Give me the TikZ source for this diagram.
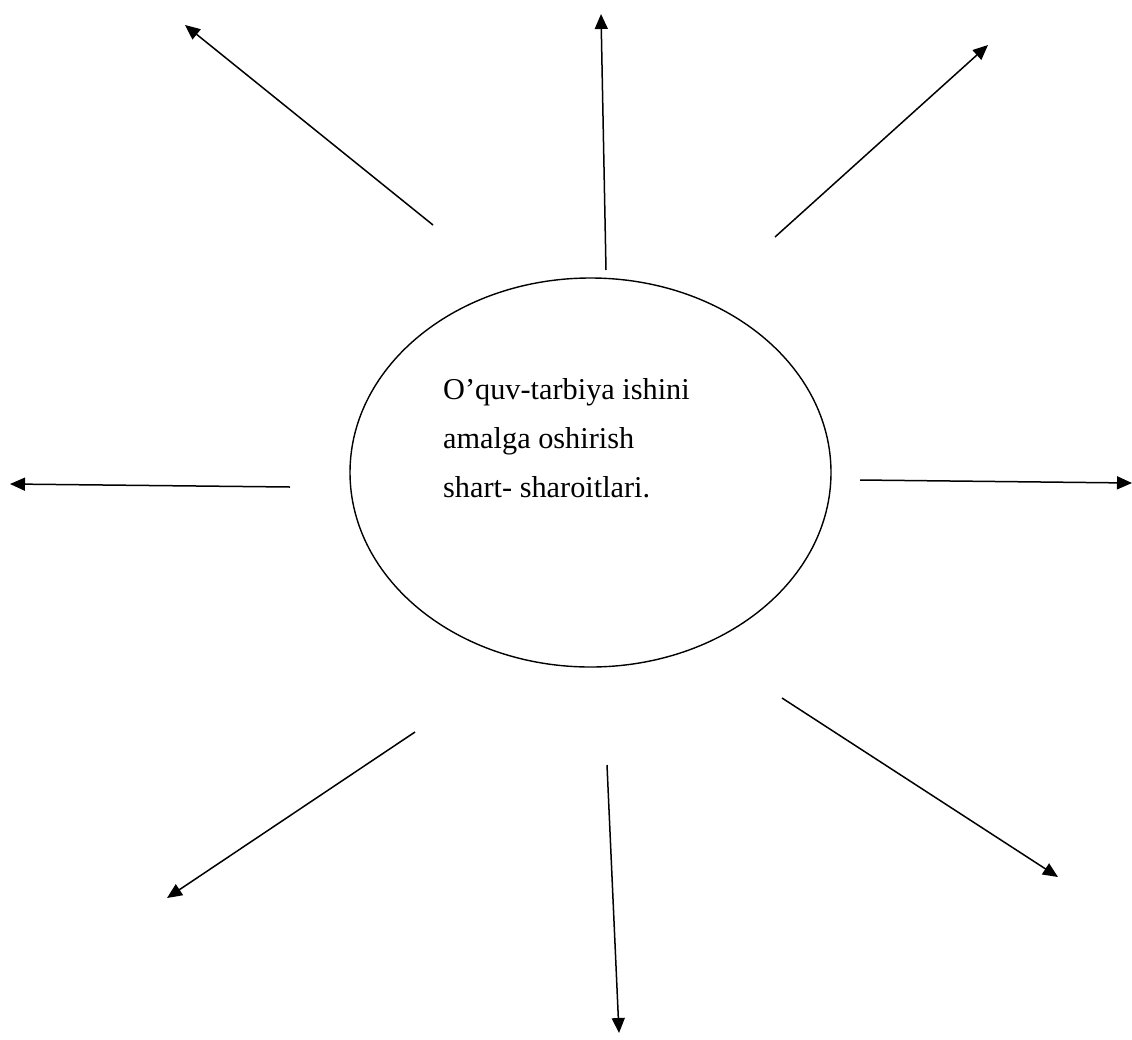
\documentclass[tikz,border=0pt]{standalone}
\usepackage{fontspec}
\setmainfont{Liberation Serif}
\usetikzlibrary{arrows.meta,shapes.geometric}

\begin{document}
\begin{tikzpicture}[x=1pt,y=1pt,yscale=-1,xscale=1,
  ray/.style={line width=1.5pt,-{Triangle[length=15pt,width=13pt]}}]
\useasboundingbox (0,0) rectangle (1132,1039);

%Shape: Ellipse
\node [ellipse,draw,line width=1.4pt,minimum width=481,minimum height=389,inner sep=0] (shart) at (590.5,472.5) {};
%Text
\node [anchor=base west,align=left,inner sep=0,font=\fontsize{30.3}{49}\selectfont] (matn) at (443,497) {O’quv-tarbiya ishini\\amalga oshirish\\shart- sharoitlari.};

%Straight Lines
\coordinate (a1) at (433,225);  \coordinate (b1) at (185,25);
\coordinate (a2) at (606,270);  \coordinate (b2) at (601,14);
\coordinate (a3) at (775,237);  \coordinate (b3) at (988,45);
\coordinate (a4) at (290,487);  \coordinate (b4) at (10,484);
\coordinate (a5) at (860,480);  \coordinate (b5) at (1132,483);
\coordinate (a6) at (415,732);  \coordinate (b6) at (167,898);
\coordinate (a7) at (607,765);  \coordinate (b7) at (619,1033);
\coordinate (a8) at (782,698);  \coordinate (b8) at (1058,877);

\foreach \i in {1,...,8}
  \draw [ray] (a\i) -- (b\i) ;

\end{tikzpicture}
\end{document}
